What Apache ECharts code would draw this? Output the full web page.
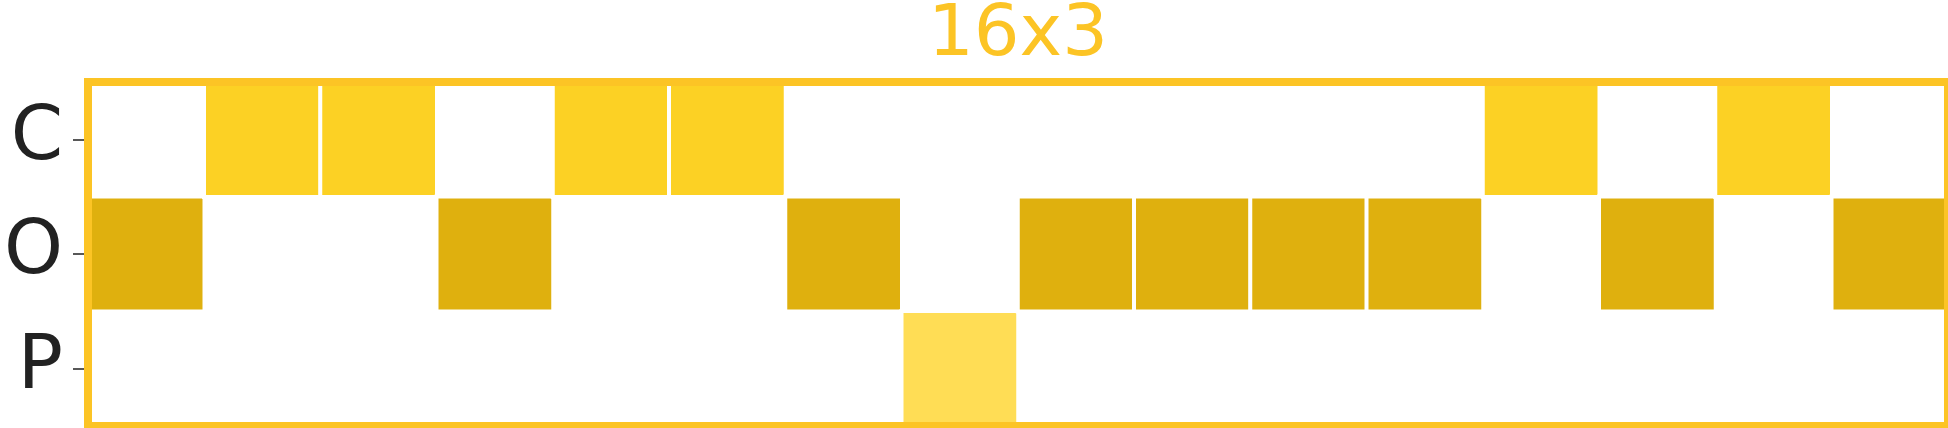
<!DOCTYPE html>
<html>
<head>
<meta charset="utf-8">
<script src="https://cdn.jsdelivr.net/npm/echarts@6/dist/echarts.min.js"></script>
<style>
html,body{margin:0;padding:0;background:#fff;}
#chart{width:1948px;height:428px;}
</style>
</head>
<body>
<div id="chart"></div>
<script>
// ---- data ----
const titleText = '16x3';
const rowLabels = ['C', 'O', 'P'];
const columns = ['1','2','3','4','5','6','7','8','9','10','11','12','13','14','15','16'];
// which row is filled in each column
const columnState = ['O','C','C','O','C','C','O','P','O','O','O','O','C','O','C','O'];
const rowColors = { C: '#FCD124', O: '#DFB00E', P: '#FFDD55' };
const accent = '#FCC425';

const cells = columnState.map((s, i) => ({
  value: [i, rowLabels.indexOf(s), 1],
  itemStyle: { color: rowColors[s] }
}));

const chart = echarts.init(document.getElementById('chart'), null, { renderer: 'canvas' });
chart.setOption({
  animation: false,
  backgroundColor: '#ffffff',
  title: {
    text: titleText,
    left: 1018,
    top: 0,
    textAlign: 'center',
    padding: 0,
    textStyle: { color: accent, fontSize: 72, fontWeight: 'normal', fontFamily: 'DejaVu Sans' }
  },
  grid: {
    left: 88, top: 82, right: 0, bottom: 2,
    show: true, z: 10,
    borderColor: accent, borderWidth: 8, backgroundColor: 'transparent'
  },
  xAxis: {
    type: 'category', data: columns,
    axisLine: { show: false }, axisTick: { show: false }, axisLabel: { show: false },
    splitLine: { show: false }, splitArea: { show: false }
  },
  yAxis: {
    type: 'category', data: rowLabels, inverse: true,
    axisLine: { show: false },
    axisTick: { show: true, alignWithLabel: true, length: 15, lineStyle: { color: '#222', width: 1.5 } },
    axisLabel: { color: '#222', fontSize: 75, fontFamily: 'DejaVu Sans', margin: 25 },
    splitLine: { show: false }, splitArea: { show: false }
  },
  series: [{
    type: 'heatmap',
    data: cells,
    itemStyle: { borderColor: '#ffffff', borderWidth: 4 },
    emphasis: { disabled: true }
  }]
});
</script>
</body>
</html>
